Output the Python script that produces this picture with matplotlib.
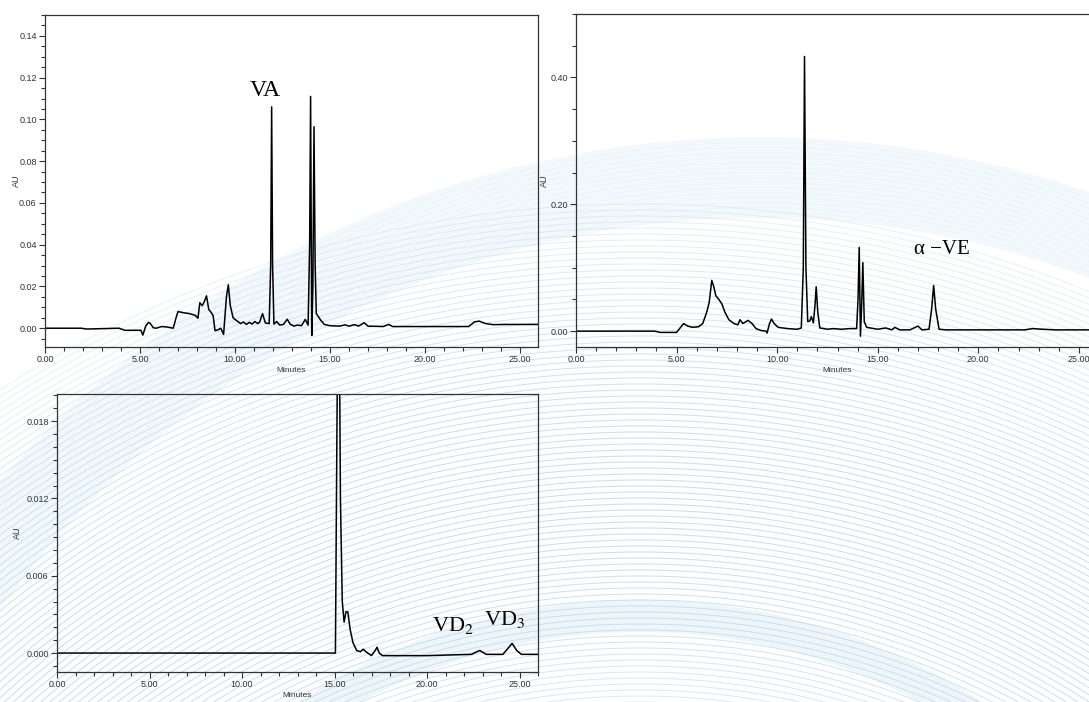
import numpy as np
import matplotlib
matplotlib.use("Agg")
import matplotlib.pyplot as plt
from matplotlib.collections import LineCollection
from matplotlib.ticker import MultipleLocator, FormatStrFormatter

plt.rcParams['font.family'] = ['Liberation Sans', 'DejaVu Sans']
plt.rcParams['mathtext.fontset'] = 'stix'

# VA chromatogram (minutes, AU)
va_time = [0.00, 1.90, 2.20, 3.90, 4.20, 5.05, 5.15, 5.30, 5.45, 5.55, 5.70, 5.85,
           6.15, 6.40, 6.75, 6.90, 7.00, 7.30, 7.60, 7.90, 8.05, 8.15, 8.28, 8.40,
           8.50, 8.62, 8.75, 8.85, 8.95, 9.10, 9.25, 9.40, 9.55, 9.65, 9.75, 9.90,
           10.10, 10.30, 10.45, 10.60, 10.75, 10.90, 11.05, 11.20, 11.30, 11.45,
           11.60, 11.80, 11.88, 11.93, 11.98, 12.05, 12.20, 12.35, 12.55, 12.75,
           12.90, 13.10, 13.30, 13.50, 13.70, 13.85, 13.93, 13.98, 14.04, 14.10,
           14.16, 14.22, 14.28, 14.50, 14.70, 15.00, 15.50, 15.80, 16.00, 16.30,
           16.50, 16.80, 17.00, 17.80, 18.10, 18.30, 20.00, 22.30, 22.60, 22.85,
           23.20, 23.60, 24.20, 26.00]
va_au = [0.0000, 0.0000, -0.0004, 0.0000, -0.0010, -0.0010, -0.0033, 0.0010, 0.0028,
         0.0022, 0.0002, 0.0000, 0.0008, 0.0006, 0.0000, 0.0050, 0.0080, 0.0074,
         0.0070, 0.0062, 0.0048, 0.0122, 0.0108, 0.0130, 0.0155, 0.0090, 0.0075,
         0.0060, -0.0012, -0.0008, 0.0000, -0.0030, 0.0150, 0.0208, 0.0110, 0.0050,
         0.0035, 0.0022, 0.0030, 0.0018, 0.0028, 0.0020, 0.0032, 0.0022, 0.0030,
         0.0070, 0.0025, 0.0022, 0.0300, 0.1060, 0.0300, 0.0020, 0.0032, 0.0015,
         0.0018, 0.0043, 0.0020, 0.0010, 0.0015, 0.0012, 0.0042, 0.0015, 0.0400,
         0.1110, -0.0035, 0.0200, 0.0965, 0.0300, 0.0070, 0.0040, 0.0018, 0.0012,
         0.0010, 0.0016, 0.0010, 0.0017, 0.0010, 0.0026, 0.0010, 0.0008, 0.0018,
         0.0008, 0.0008, 0.0008, 0.0030, 0.0034, 0.0022, 0.0017, 0.0018, 0.0018]

# VE chromatogram (minutes, AU)
ve_time = [0.00, 3.90, 4.20, 5.00, 5.15, 5.35, 5.55, 5.80, 6.10, 6.30, 6.50, 6.62,
           6.75, 6.85, 6.95, 7.10, 7.25, 7.40, 7.60, 7.85, 8.05, 8.15, 8.30, 8.55,
           8.75, 8.95, 9.20, 9.45, 9.50, 9.62, 9.72, 9.85, 10.05, 10.50, 11.00,
           11.20, 11.30, 11.36, 11.43, 11.52, 11.62, 11.70, 11.80, 11.88, 11.94,
           12.02, 12.12, 12.50, 12.80, 13.20, 13.60, 13.95, 14.02, 14.08, 14.14,
           14.20, 14.26, 14.33, 14.45, 15.00, 15.40, 15.70, 15.85, 16.10, 16.60,
           17.00, 17.20, 17.55, 17.68, 17.78, 17.88, 18.05, 18.40, 22.30, 22.70,
           23.20, 23.80, 26.00]
ve_au = [0.000, 0.000, -0.002, -0.002, 0.004, 0.012, 0.008, 0.006, 0.007, 0.012,
         0.030, 0.045, 0.080, 0.070, 0.056, 0.050, 0.043, 0.030, 0.018, 0.012,
         0.010, 0.018, 0.012, 0.017, 0.012, 0.004, 0.001, 0.000, -0.003, 0.012,
         0.019, 0.012, 0.006, 0.004, 0.003, 0.005, 0.100, 0.433, 0.100, 0.015,
         0.016, 0.023, 0.013, 0.040, 0.070, 0.030, 0.005, 0.003, 0.004, 0.003,
         0.004, 0.004, 0.050, 0.132, -0.008, 0.040, 0.108, 0.015, 0.006, 0.003,
         0.005, 0.002, 0.006, 0.002, 0.002, 0.008, 0.002, 0.003, 0.035, 0.072,
         0.035, 0.003, 0.002, 0.002, 0.004, 0.003, 0.002, 0.002]

# VD chromatogram (minutes, AU)
vd_time = [0.00, 14.95, 15.05, 15.12, 15.22, 15.32, 15.42, 15.52, 15.62, 15.72,
           15.85, 16.00, 16.20, 16.40, 16.55, 16.70, 17.00, 17.20, 17.30, 17.42,
           17.60, 20.00, 22.40, 22.85, 23.20, 24.10, 24.40, 24.60, 24.85, 25.10,
           26.00]
vd_au = [0.0000, 0.0000, 0.0000, 0.0150, 0.0350, 0.0120, 0.0040, 0.0024, 0.0032,
         0.0032, 0.0018, 0.0008, 0.0002, 0.0001, 0.0003, 0.0001, -0.0002, 0.0002,
         0.00045, 0.0000, -0.0002, -0.0002, -0.0001, 0.0002, -0.0001, -0.0001,
         0.0004, 0.00075, 0.0002, -0.0001, -0.0001]

W, H = 1089, 702
fig = plt.figure(figsize=(W / 100, H / 100), dpi=100)

# decorative arc pattern behind the panels (pixel coordinates)
bg = fig.add_axes([0, 0, 1, 1], zorder=0)
bg.set_xlim(0, W)
bg.set_ylim(H, 0)
bg.axis('off')


def arcs(cx, cy, radii):
    th = np.linspace(0, np.pi, 600)
    return [np.column_stack([cx + r * np.cos(th), cy - r * np.sin(th)]) for r in radii]


fine_r = np.arange(620, 1200, 6)
fine_a = 0.30 + 0.50 * np.sin(np.pi * (fine_r - 620) / 580)
bg.add_collection(LineCollection(arcs(640, 1400, fine_r), colors=[(0.72, 0.85, 0.91, a) for a in fine_a],
                                 linewidths=0.75))
band_r = np.arange(935, 1015, 5)
bg.add_collection(LineCollection(arcs(760, 1150, band_r), colors=[(0.70, 0.84, 0.91, 0.16)],
                                 linewidths=4))
band2_r = np.arange(596, 628, 4)
bg.add_collection(LineCollection(arcs(640, 1226, band2_r), colors=[(0.70, 0.84, 0.91, 0.20)],
                                 linewidths=3))


def panel(rect, t, au, xlim, ylim, ymajor, yminor, yfmt, ylab_x):
    ax = fig.add_axes(rect, zorder=1)
    ax.set_facecolor('none')
    ax.plot(t, au, color='black', lw=1.1)
    ax.set_xlim(*xlim)
    ax.set_ylim(*ylim)
    ax.xaxis.set_major_locator(MultipleLocator(5))
    ax.xaxis.set_minor_locator(MultipleLocator(1))
    ax.xaxis.set_major_formatter(FormatStrFormatter('%.2f'))
    ax.yaxis.set_major_locator(MultipleLocator(ymajor))
    ax.yaxis.set_minor_locator(MultipleLocator(yminor))
    ax.yaxis.set_major_formatter(FormatStrFormatter(yfmt))
    ax.tick_params(which='both', direction='out', labelsize=6.5, colors='#333333', width=0.8, pad=2)
    ax.tick_params(which='major', length=4)
    ax.tick_params(which='minor', length=3)
    for s in ax.spines.values():
        s.set_color('#333333')
        s.set_linewidth(0.9)
    ax.set_xlabel('Minutes', fontsize=6, color='#333333', labelpad=2)
    ax.set_ylabel('AU', fontsize=6.5, color='#333333')
    ax.yaxis.set_label_coords(ylab_x, 0.5)
    return ax


ax1 = panel([45 / W, 1 - 347 / H, 493 / W, 332 / H], va_time, va_au,
            (0, 25.95), (-0.009, 0.150), 0.02, 0.005, '%.2f', -0.048)
ax2 = panel([576 / W, 1 - 347 / H, 523 / W, 333 / H], ve_time, ve_au,
            (0, 26.0), (-0.025, 0.50), 0.20, 0.05, '%.2f', -0.052)
ax3 = panel([57 / W, 1 - 672 / H, 481 / W, 278 / H], vd_time, vd_au,
            (0, 26.0), (-0.00147, 0.0201), 0.006, 0.001, '%.3f', -0.073)

serif = ['Liberation Serif', 'DejaVu Serif']
ax1.text(11.6, 0.114, 'VA', fontsize=17, family=serif, ha='center', va='center')
ax2.text(18.2, 0.128, 'α −VE', fontsize=15, family=serif, ha='center', va='center')
ax3.text(21.4, 0.0021, 'VD$_2$', fontsize=16, family=serif, ha='center', va='center')
ax3.text(24.2, 0.0026, 'VD$_3$', fontsize=16, family=serif, ha='center', va='center')

fig.savefig('out.png', dpi=100)
